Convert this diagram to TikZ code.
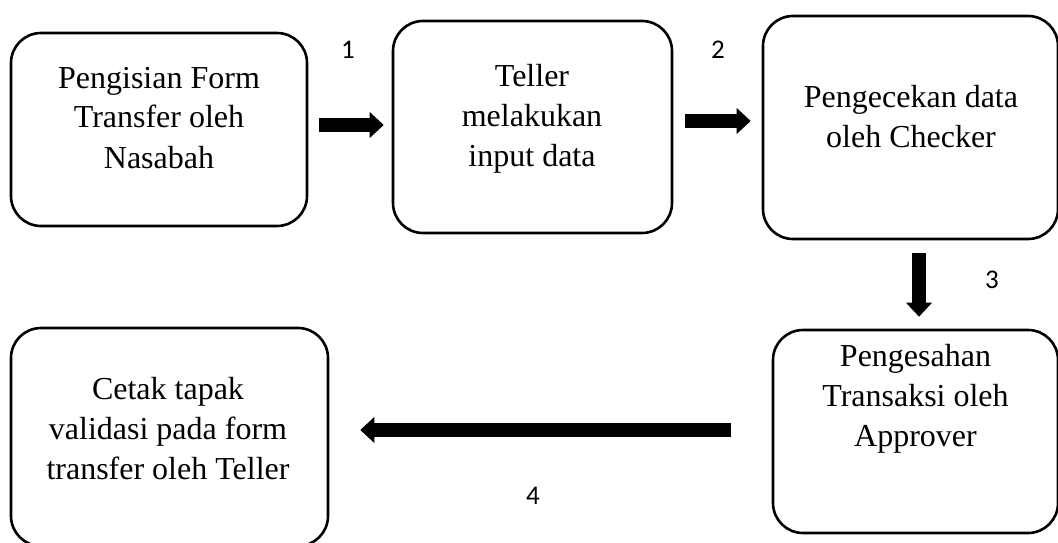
\documentclass[tikz,border=0pt]{standalone}
\usepackage{fontspec}
\setmainfont{Liberation Serif}
\newfontfamily\labelfont{Carlito}
\usetikzlibrary{arrows.meta}
\tikzset{
  stepbox/.style={draw, line width=2.6pt, rounded corners=30pt, inner sep=0pt},
  boxtext/.style={align=center, font=\fontsize{32}{40}\selectfont, inner sep=0pt},
  flow/.style={line width=14pt, -{Triangle[length=14pt,width=26pt,line width=0pt]}},
  steplabel/.style={font=\labelfont\fontsize{27}{30}\selectfont, inner sep=0pt}
}
\begin{document}
\begin{tikzpicture}[x=1pt,y=-1pt]
\useasboundingbox (0,0) rectangle (1058,543);

% process boxes
\node[stepbox, minimum width=296pt, minimum height=193pt] (b1) at (159,129.5) {};
\node[stepbox, minimum width=279pt, minimum height=212pt] (b2) at (532.5,127) {};
\node[stepbox, minimum width=295pt, minimum height=223pt] (b3) at (910.5,127.5) {};
\node[stepbox, minimum width=285pt, minimum height=203pt] (b4) at (915.5,431.5) {};
\node[stepbox, minimum width=317pt, minimum height=218pt] (b5) at (169.5,437) {};

% box captions
\node[boxtext] (t1) at (159,120) {\strut Pengisian Form\\\strut Transfer oleh\\\strut Nasabah};
\node[boxtext] (t2) at (532,118) {\strut Teller\\\strut melakukan\\\strut input data};
\node[boxtext] (t3) at (911,119) {\strut Pengecekan data\\\strut oleh Checker};
\node[boxtext] (t4) at (915.5,398) {\strut Pengesahan\\\strut Transaksi oleh\\\strut Approver};
\node[boxtext] (t5) at (168,431) {\strut Cetak tapak\\\strut validasi pada form\\\strut transfer oleh Teller};

% flow arrows
\draw[flow] ([shift={(11,-4.5)}]b1.east) -- ([shift={(-8,-2)}]b2.west);
\draw[flow] ([shift={(12,-6)}]b2.east) -- ([shift={(-11,-6.5)}]b3.west);
\draw[flow] ([shift={(8.5,13)}]b3.south) -- ([shift={(3.5,-12)}]b4.north);
\draw[flow] ([shift={(-41,-1.5)}]b4.west) -- ([shift={(31,-7)}]b5.east);

% step numbers
\node[steplabel] (n1) at (348,50) {1};
\node[steplabel] (n2) at (718,50) {2};
\node[steplabel] (n3) at (992,280) {3};
\node[steplabel] (n4) at (533,496) {4};
\end{tikzpicture}
\end{document}
